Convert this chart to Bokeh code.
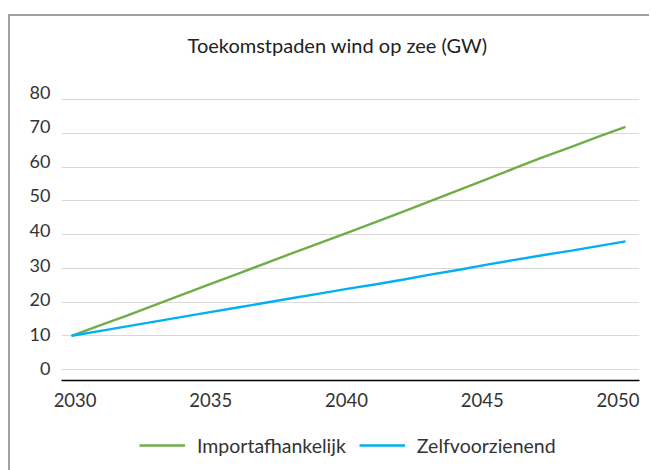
from bokeh.plotting import figure
from bokeh.layouts import column
from bokeh.models import (Range1d, LinearAxis, FixedTicker, Grid, Legend, LegendItem,
                          ColumnDataSource, Label)
from bokeh.embed import file_html
from bokeh.resources import INLINE

# ---- data ----
years = list(range(2030, 2051))
importafhankelijk = [10.0, 13.0, 16.0, 19.1, 22.2, 25.3, 28.4, 31.5, 34.6, 37.6, 40.7,
                     43.8, 46.9, 50.1, 53.3, 56.5, 59.7, 62.9, 65.9, 69.0, 72.0]
zelfvoorzienend = [10.0, 11.4, 12.8, 14.2, 15.6, 17.0, 18.4, 19.8, 21.2, 22.6, 24.0,
                   25.3, 26.7, 28.2, 29.6, 31.1, 32.5, 33.9, 35.2, 36.6, 38.0]
x_ticks = [2030, 2035, 2040, 2045, 2050]
y_ticks = [0, 10, 20, 30, 40, 50, 60, 70, 80]
series_names = ["Importafhankelijk", "Zelfvoorzienend"]
title_text = "Toekomstpaden wind op zee (GW)"

FONT = "Lato"
TXT = "#333333"
GREEN = "#70AD47"
BLUE = "#00B0F0"
W = 639

src = ColumnDataSource(dict(year=years, imp=importafhankelijk, zelf=zelfvoorzienend))


def bare(fig):
    fig.outline_line_color = None
    fig.background_fill_color = "white"
    fig.border_fill_color = "white"
    fig.center = [r for r in fig.center if not isinstance(r, Grid)]


# ---- title strip ----
top = figure(frame_width=W, frame_height=58, output_backend="svg", toolbar_location=None,
             x_axis_location=None, y_axis_location=None,
             x_range=Range1d(0, W), y_range=Range1d(58, 0),
             min_border=0)
bare(top)
top.add_layout(Label(x=276, y=28.5, text=title_text, text_font=FONT,
                     text_font_size="20px", text_color="#222222",
                     text_align="center", text_baseline="middle"))

# ---- main chart ----
p = figure(frame_width=578, frame_height=290, output_backend="svg", toolbar_location=None,
           x_axis_location=None, y_axis_location=None,
           x_range=Range1d(2029.639, 2050.505), y_range=Range1d(-3.263, 82.76),
           min_border_left=51, min_border_right=10, min_border_top=16, min_border_bottom=40)
bare(p)

# label scales (tick labels in the reference are spaced slightly differently from the grid)
p.extra_x_ranges = {"xl": Range1d(2029.499, 2050.792)}
p.extra_y_ranges = {"yl": Range1d(-3.384, 80.49)}

xaxis = LinearAxis(x_range_name="xl", ticker=FixedTicker(ticks=x_ticks))
xaxis.axis_line_color = "black"
xaxis.axis_line_width = 1.5
xaxis.major_tick_line_color = None
xaxis.minor_tick_line_color = None
xaxis.major_tick_out = 0
xaxis.major_tick_in = 0
xaxis.major_label_standoff = 12
xaxis.major_label_text_font = FONT
xaxis.major_label_text_font_size = "18.5px"
xaxis.major_label_text_color = TXT
p.add_layout(xaxis, "below")

yaxis = LinearAxis(y_range_name="yl", ticker=FixedTicker(ticks=y_ticks))
yaxis.axis_line_color = None
yaxis.major_tick_line_color = None
yaxis.minor_tick_line_color = None
yaxis.major_tick_out = 0
yaxis.major_tick_in = 0
yaxis.major_label_standoff = 11
yaxis.major_label_text_font = FONT
yaxis.major_label_text_font_size = "18px"
yaxis.major_label_text_color = TXT
p.add_layout(yaxis, "left")

grid = Grid(dimension=1, ticker=FixedTicker(ticks=y_ticks))
grid.grid_line_color = "#d9d9d9"
grid.grid_line_width = 1.2
p.add_layout(grid, "center")

p.line("year", "imp", source=src, line_color=GREEN, line_width=2.4)
p.line("year", "zelf", source=src, line_color=BLUE, line_width=2.4)

# ---- legend strip (same series, drawn out of view; only the legend shows) ----
leg = figure(frame_width=W, frame_height=50, output_backend="svg", toolbar_location=None,
             x_axis_location=None, y_axis_location=None,
             x_range=Range1d(0, W), y_range=Range1d(0, 50), min_border=0)
bare(leg)
l1 = leg.line("year", "imp", source=src, line_color=GREEN, line_width=2.4)
l2 = leg.line("year", "zelf", source=src, line_color=BLUE, line_width=2.4)
legend = Legend(items=[LegendItem(label=series_names[0], renderers=[l1]),
                       LegendItem(label=series_names[1], renderers=[l2])],
                orientation="horizontal", location=(129, 13))
legend.glyph_width = 46
legend.glyph_height = 24
legend.label_height = 24
legend.label_standoff = 12
legend.spacing = 13
legend.padding = 0
legend.margin = 0
legend.border_line_color = None
legend.background_fill_alpha = 0
legend.label_text_font = FONT
legend.label_text_font_size = "19.5px"
legend.label_text_color = TXT
leg.add_layout(legend, "center")

page = column(top, p, leg, spacing=0, margin=(14, 0, 0, 8),
              styles={"border-top": "2px solid #a0a0a0", "border-left": "2px solid #a0a0a0"})

open("out.html", "w").write(file_html(page, INLINE))
